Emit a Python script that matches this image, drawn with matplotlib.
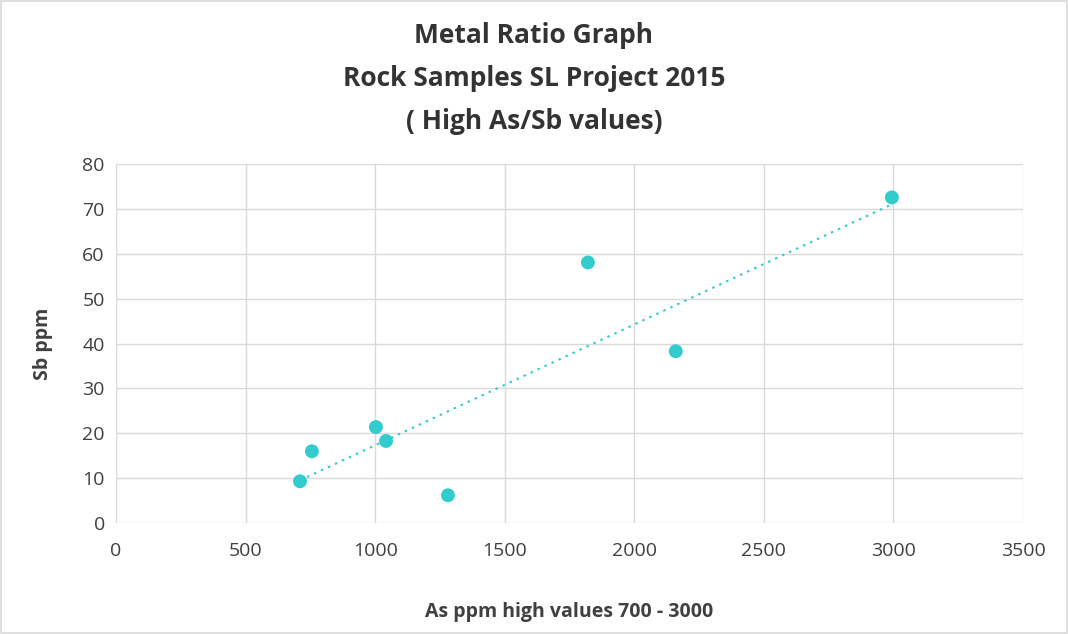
import matplotlib
matplotlib.use("Agg")
import matplotlib.pyplot as plt
import numpy as np

plt.rcParams['font.family'] = ['Open Sans', 'DejaVu Sans']

as_ppm = [710, 756, 1003, 1042, 1281, 1821, 2160, 2994]
sb_ppm = [9.3, 16.0, 21.4, 18.3, 6.2, 58.1, 38.3, 72.6]
x_ticks = [0, 500, 1000, 1500, 2000, 2500, 3000, 3500]
y_ticks = [0, 10, 20, 30, 40, 50, 60, 70, 80]

teal = "#33CCCC"
grid = "#D9D9D9"
txt = "#404040"

fig = plt.figure(figsize=(10.68, 6.34), dpi=100)
fig.patch.set_facecolor("white")
border = plt.Rectangle((0.001, 0.001), 0.998, 0.997, transform=fig.transFigure,
                       fill=False, edgecolor="#D9D9D9", linewidth=1.2)
fig.add_artist(border)

ax = fig.add_axes([0.1086, 0.175, 0.8493, 0.566])
ax.set_xlim(0, 3500)
ax.set_ylim(0, 80)
ax.set_xticks(x_ticks)
ax.set_yticks(y_ticks)
ax.grid(True, color=grid, linewidth=1)
ax.set_axisbelow(True)
for s in ax.spines.values():
    s.set_visible(False)
ax.tick_params(length=0, labelsize=14, colors=txt, pad=8)
ax.tick_params(axis='x', pad=14)

xa = np.array(as_ppm, dtype=float)
ya = np.array(sb_ppm, dtype=float)
m, b = np.polyfit(xa, ya, 1)
xl = np.array([xa.min(), xa.max()])
ax.plot(xl, m * xl + b, color=teal, linestyle=(0, (1.2, 2.5)), linewidth=1.5, zorder=2)
ax.scatter(xa, ya, s=100, color=teal, zorder=3, edgecolors='none')

ax.set_xlabel("As ppm high values 700 - 3000", fontsize=14, fontweight='bold', color=txt, labelpad=30)
ax.set_ylabel("Sb ppm", fontsize=14, fontweight='bold', color=txt, labelpad=21)

fig.text(0.5, 0.965, "Metal Ratio Graph\nRock Samples SL Project 2015\n( High As/Sb values)",
         ha='center', va='top', fontsize=19, fontweight='bold', color="#333333", linespacing=1.75)

fig.savefig("out.png", dpi=100)
